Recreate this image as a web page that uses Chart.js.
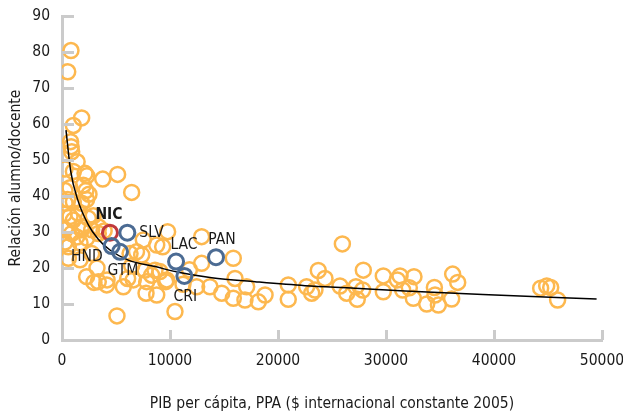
<!DOCTYPE html>
<html>
<head>
<meta charset="utf-8">
<script src="https://cdn.jsdelivr.net/npm/chart.js@4"></script>
<style>
  body { margin: 0; background: #fff; }
  canvas { display: block; }
</style>
</head>
<body>
<canvas id="myChart" width="623" height="415"></canvas>
<script>
// GDP per capita (PPP, const. 2005 intl $) and pupil/teacher ratio, one pair per country
const gdpX = [
  830, 530, 1820, 1050, 800, 850, 900, 1400, 280, 1050, 2130, 2300, 3770,
  280, 740, 1970, 2220, 2500, 530, 2280, 280, 1050, 1820, 190, 740, 1510,
  2440, 2900, 1050, 1820, 3400, 280, 900, 1820, 2750, 3360, 3900, 1360,
  2300, 280, 590, 1670, 2750, 590, 1670, 3240, 2280, 2960, 4170, 3360,
  4140, 5090,
  5150, 6450, 6600, 5680, 6080, 6450, 6300, 7530, 7690, 7380, 7840, 7780,
  8770, 8610, 8770, 9070, 9690, 9780, 9320, 8300, 9600, 10460, 6900, 11800,
  12470, 12930, 12930, 13700, 14790, 15860, 16020, 15860, 17100, 16940,
  18180, 18800, 11200,
  20950, 20950, 22650, 23120, 23420, 23730, 24350, 25740, 25960, 26360,
  27220, 27340, 27840, 27900, 29750, 29750, 31050, 31300, 31540, 32160,
  32590, 32530, 33770, 34480, 34540, 34850, 36080, 36170, 36640,
  44320, 44880, 45250, 45890
];
const ratioY = [
  80.4, 74.5, 61.7, 59.6, 55.1, 53.7, 52.3, 49.5, 47.5, 46.8, 46.3, 45.6, 44.7,
  41.5, 42.3, 43.0, 41.5, 40.5, 39.0, 39.0, 38.0, 38.4, 38.0, 34.9, 34.3, 35.2,
  33.8, 34.5, 33.3, 31.4, 31.4, 30.6, 29.6, 30.6, 30.6, 29.6, 30.3, 28.6,
  28.3, 27.2, 25.9, 27.0, 24.0, 22.7, 22.3, 20.0, 17.6, 16.0, 16.7, 16.2,
  15.3, 6.7,
  46.0, 41.0, 16.7, 14.8, 17.1, 20.6, 24.0, 27.8, 19.4, 23.6, 16.2, 13.0,
  12.5, 19.4, 26.4, 19.0, 16.7, 30.1, 25.9, 18.0, 16.2, 7.9, 24.5, 19.5,
  14.8, 28.7, 21.3, 14.8, 13.0, 22.7, 17.1, 11.6, 14.8, 11.1,
  10.6, 12.5, 15.5,
  15.3, 11.3, 14.8, 13.0, 13.9, 19.3, 17.1, 15.0, 26.7, 13.0,
  14.8, 11.3, 13.9, 19.4, 17.8, 13.4, 16.7, 17.8, 13.9, 14.5,
  17.6, 11.6, 10.0, 14.6, 12.5, 9.7, 11.4, 18.3, 16.0,
  14.4, 15.0, 14.6, 11.1
];

// Central America + regional average
const hiCodes = ['NIC', 'SLV', 'HND', 'GTM', 'LAC', 'CRI', 'PAN'];
const hiX = [4440, 6050, 4600, 5370, 10560, 11330, 14260];
const hiY = [29.8, 29.8, 26.1, 24.5, 21.8, 17.8, 23.0];

// fitted trend curve
const trendX = [370, 800, 1450, 2440, 3360, 4440, 6140, 8610, 10770, 13860, 17870, 22500, 27130, 31760, 40090, 49500];
const trendY = [58.3, 47.0, 39.0, 32.0, 28.0, 25.0, 22.2, 20.4, 18.8, 17.3, 16.2, 15.1, 14.4, 13.6, 12.5, 11.4];

const xTicks = [0, 10000, 20000, 30000, 40000, 50000];
const yTicks = [0, 10, 20, 30, 40, 50, 60, 70, 80, 90];

const FONT = '"DejaVu Sans Condensed", "Liberation Sans Narrow", sans-serif';
const ORANGE = '#fdb84f';
const BLUE = '#4b6b93';
const RED = '#c0393c';
const AXIS = '#cbcbcb';

const toPts = (xs, ys) => xs.map((x, i) => ({ x: x, y: ys[i] }));

// label offsets relative to each highlighted point (px)
const labelPos = {
  NIC: { dx: -1, dy: -18, align: 'center', bold: true },
  SLV: { dx: 12, dy: 0, align: 'left' },
  HND: { dx: -9, dy: 11, align: 'right' },
  GTM: { dx: 3, dy: 19, align: 'center' },
  LAC: { dx: 8, dy: -17, align: 'center' },
  CRI: { dx: 1, dy: 21, align: 'center' },
  PAN: { dx: 6, dy: -17, align: 'center' }
};

// short inward tick marks on both axes
const innerTicks = {
  id: 'innerTicks',
  afterDatasetsDraw(chart) {
    const { ctx, scales: { x, y } } = chart;
    ctx.save();
    ctx.strokeStyle = AXIS;
    ctx.lineWidth = 3;
    ctx.beginPath();
    yTicks.forEach(v => {
      const py = Math.round(y.getPixelForValue(v)) + 0.5;
      ctx.moveTo(x.left, py);
      ctx.lineTo(x.left + 12, py);
    });
    xTicks.forEach(v => {
      if (v === 0) return;
      const px = Math.round(x.getPixelForValue(v)) + 0.5;
      ctx.moveTo(px, y.bottom);
      ctx.lineTo(px, y.bottom - 10);
    });
    ctx.stroke();
    ctx.restore();
  }
};

const pointLabels = {
  id: 'pointLabels',
  afterDatasetsDraw(chart) {
    const { ctx, scales: { x, y } } = chart;
    ctx.save();
    ctx.fillStyle = '#1a1a1a';
    ctx.textBaseline = 'middle';
    hiCodes.forEach((code, i) => {
      const p = labelPos[code];
      ctx.font = (p.bold ? 'bold ' : '') + '15.5px ' + FONT;
      ctx.textAlign = p.align;
      ctx.fillText(code, x.getPixelForValue(hiX[i]) + p.dx, y.getPixelForValue(hiY[i]) + p.dy);
    });
    ctx.restore();
  }
};

const config = {
  type: 'scatter',
  data: {
    datasets: [
      {
        label: 'Destacados',
        data: toPts(hiX, hiY),
        pointRadius: 7.5,
        pointBorderWidth: 3,
        pointBorderColor: hiCodes.map(c => c === 'NIC' ? RED : BLUE),
        pointBackgroundColor: 'rgba(255,255,255,0)',
        order: 0
      },
      {
        type: 'line',
        label: 'Tendencia',
        data: toPts(trendX, trendY),
        borderColor: '#000',
        borderWidth: 1.5,
        pointRadius: 0,
        cubicInterpolationMode: 'monotone',
        fill: false,
        order: 1
      },
      {
        label: 'Países',
        data: toPts(gdpX, ratioY),
        pointRadius: 7.5,
        pointBorderWidth: 2.5,
        pointBorderColor: ORANGE,
        pointBackgroundColor: 'rgba(255,255,255,0)',
        order: 2
      }
    ]
  },
  options: {
    responsive: false,
    animation: false,
    layout: { padding: { top: 16, right: 21, left: 0, bottom: 0 } },
    plugins: {
      legend: { display: false },
      tooltip: { enabled: false }
    },
    scales: {
      x: {
        type: 'linear',
        min: 0,
        max: 50000,
        afterBuildTicks: s => { s.ticks = xTicks.map(v => ({ value: v })); },
        afterFit: s => { s.height = 75; s.paddingLeft = 0; s.paddingRight = 0; },
        grid: { display: false, drawTicks: false },
        border: { color: AXIS, width: 3 },
        ticks: {
          color: '#1a1a1a',
          font: { family: FONT, size: 15.5 },
          padding: 12,
          maxRotation: 0,
          callback: v => String(v)
        },
        title: {
          display: true,
          text: 'PIB per cápita, PPA ($ internacional constante 2005)',
          color: '#1a1a1a',
          font: { family: FONT, size: 15.5 },
          padding: { top: 0, bottom: 2 }
        }
      },
      y: {
        min: 0,
        max: 90,
        afterBuildTicks: s => { s.ticks = yTicks.map(v => ({ value: v })); },
        afterFit: s => { s.width = 62; s.paddingTop = 0; s.paddingBottom = 0; },
        grid: { display: false, drawTicks: false },
        border: { color: AXIS, width: 3 },
        ticks: {
          color: '#1a1a1a',
          font: { family: FONT, size: 15.5 },
          padding: 12,
          callback: v => String(v)
        },
        title: {
          display: true,
          text: 'Relación alumno/docente',
          color: '#1a1a1a',
          font: { family: FONT, size: 15.5 },
          padding: { top: 7, bottom: 0 }
        }
      }
    }
  },
  plugins: [innerTicks, pointLabels]
};

const ctx = document.getElementById('myChart').getContext('2d');
const myChart = new Chart(ctx, config);
</script>
</body>
</html>
